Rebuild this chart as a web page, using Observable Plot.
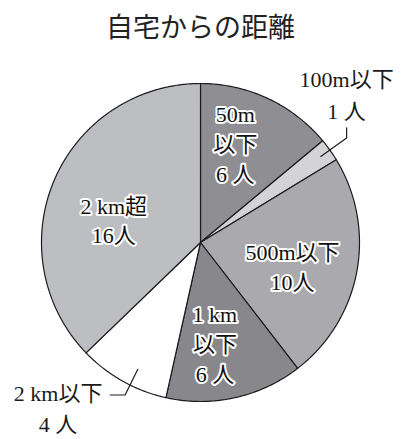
<!DOCTYPE html>
<html>
<head>
<meta charset="utf-8">
<script src="https://cdn.jsdelivr.net/npm/d3@7"></script>
<script src="https://cdn.jsdelivr.net/npm/@observablehq/plot@0.6"></script>
<style>
  html, body { margin: 0; padding: 0; background: #fff; }
  #wrap { width: 401px; }
  #title { height: 47px; padding-top: 9px; line-height: 34px; text-align: center;
           font-family: "Noto Sans CJK JP", "Noto Sans", sans-serif; font-size: 27px; color: #222; }
</style>
</head>
<body>
<div id="wrap">
  <div id="title">自宅からの距離</div>
  <div id="chart"></div>
</div>
<script>
// ---- data ----
const categories = ["50m以下", "100m以下", "500m以下", "1km以下", "2km以下", "2km超"];
const counts = [6, 1, 10, 6, 4, 16];
const labelTexts = ["50m\n以下\n6 人", "100m以下\n1 人", "500m以下\n10人", "1 km\n以下\n6 人", "2 km以下\n4 人", "2 km超\n16人"];
const colors = ["#8e8e93", "#d4d4d6", "#aaaaae", "#88888c", "#ffffff", "#bdbec2"];

// ---- layout (styles / placement) ----
const W = 401, H = 383, CX = 200, CY = 186, R = 159;
const PX = 1 / R; // one pixel in data units
const inside = [0, 2, 3, 5];               // slices labelled inside
const insideOffset = {0: [-7, -11], 2: [-5, 5], 3: [-7, 4], 5: [4, 15]};
const outside = {1: {angleShift: 0, r0: 0.93, r1: 1.13, tail: [0, -10], text: [0, -35], lh: 1.45},
                 4: {angleShift: -3, r0: 0.89, r1: 1.07, tail: [-15, 0], text: [-52, 12], lh: 1.4}};
const labelFont = '"Liberation Serif", "Noto Sans CJK JP", serif';

const arcs = d3.pie().sort(null).value(d => d)(counts);
const polar = (a, r) => ({x: r * Math.sin(a), y: r * Math.cos(a)});

function slicePolygon(a) {
  const pts = [{x: 0, y: 0}];
  const n = Math.max(2, Math.ceil((a.endAngle - a.startAngle) / 0.01));
  for (let j = 0; j <= n; j++) {
    const t = a.startAngle + (a.endAngle - a.startAngle) * j / n;
    pts.push(polar(t, 1));
  }
  return pts;
}

const marks = [];
arcs.forEach((a, i) => {
  marks.push(Plot.line(slicePolygon(a), {
    x: "x", y: "y", fill: colors[i], stroke: "#1c1c1c", strokeWidth: 1.2,
    curve: "linear-closed", strokeLinejoin: "round"
  }));
});

// inside labels
inside.forEach(i => {
  const a = arcs[i];
  const c = polar((a.startAngle + a.endAngle) / 2, 0.62);
  const [dx, dy] = insideOffset[i];
  marks.push(Plot.text([{x: c.x, y: c.y, t: labelTexts[i]}], {
    x: "x", y: "y", text: "t", dx, dy, fontSize: 22, lineHeight: 1.36,
    fontFamily: labelFont, fill: "#111", stroke: "white", strokeWidth: 4,
    paintOrder: "stroke", textAnchor: "middle"
  }));
});

// outside labels with leader lines
Object.entries(outside).forEach(([k, o]) => {
  const i = +k;
  const a = arcs[i];
  const mid = (a.startAngle + a.endAngle) / 2 + o.angleShift * Math.PI / 180;
  const p1 = polar(mid, o.r0), p2 = polar(mid, o.r1);
  const p3 = {x: p2.x + o.tail[0] * PX, y: p2.y - o.tail[1] * PX};
  marks.push(Plot.line([p1, p2, p3], {x: "x", y: "y", stroke: "#1c1c1c", strokeWidth: 1.2}));
  marks.push(Plot.text([{x: p3.x, y: p3.y, t: labelTexts[i]}], {
    x: "x", y: "y", text: "t", dx: o.text[0], dy: o.text[1], fontSize: 22, lineHeight: o.lh,
    fontFamily: labelFont, fill: "#1a1a1a", textAnchor: "middle"
  }));
});

const chart = Plot.plot({
  width: W, height: H, margin: 0,
  x: {domain: [-1, 1], range: [CX - R, CX + R], axis: null},
  y: {domain: [-1, 1], range: [CY + R, CY - R], axis: null},
  style: {background: "white", overflow: "visible"},
  marks
});
document.getElementById("chart").appendChild(chart);
</script>
</body>
</html>
